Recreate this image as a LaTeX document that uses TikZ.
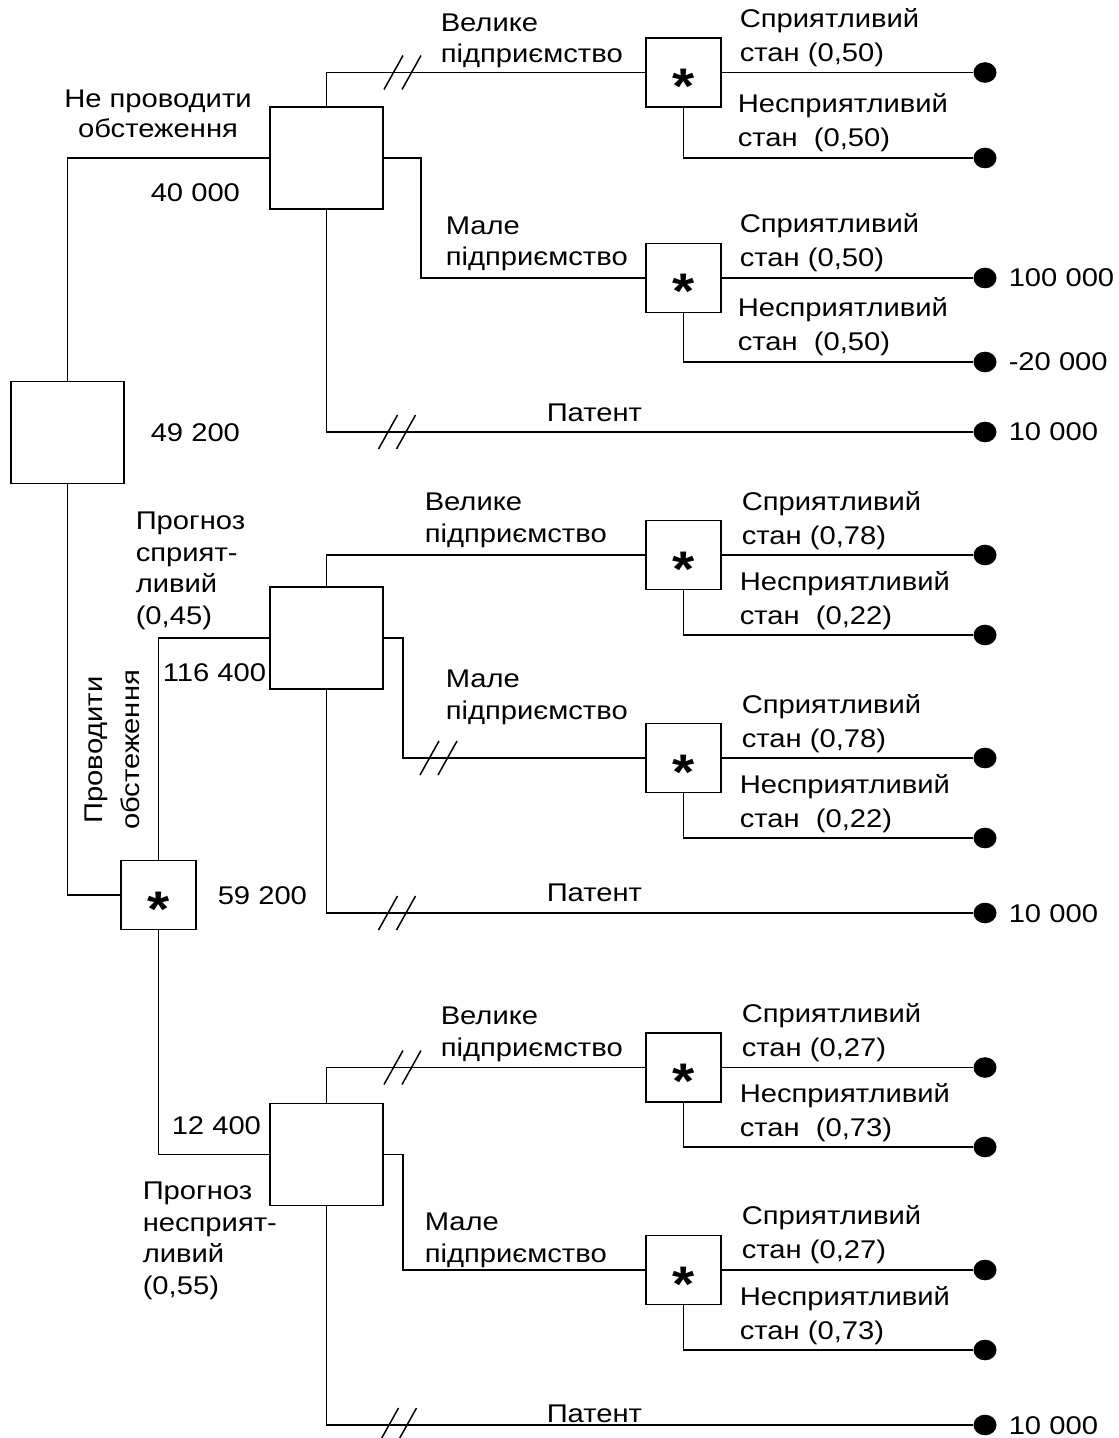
\documentclass[tikz,border=0pt]{standalone}
\usepackage{fontspec}
\usetikzlibrary{shapes.geometric}
\setmainfont{Liberation Sans}[FakeStretch=1.14]
\begin{document}
\begin{tikzpicture}[x=0.5pt,y=-0.5pt, line width=0.75pt,
 dbox/.style={draw, minimum width=56.5pt, minimum height=51pt, inner sep=0},
 cbox/.style={draw, minimum width=37.5pt, minimum height=34.5pt, inner sep=0},
 ast/.style={font=\fontsize{25}{25}\selectfont\bfseries, inner sep=0, anchor=base},
 enddot/.style={ellipse, fill, minimum width=11.5pt, minimum height=10.3pt, inner sep=0},
 lbl/.style={font=\fontsize{12.8}{15.75}\selectfont, inner sep=0, anchor=base west, align=left},
 rlbl/.style={font=\fontsize{12.8}{17}\selectfont, inner sep=0, anchor=base west, align=left},
 clbl/.style={font=\fontsize{12.8}{15}\selectfont, inner sep=0, anchor=base, align=center},
 hashes/.pic={\draw (-18.5,17) -- (0.5,-17); \draw (-0.5,17) -- (18.5,-17);}
]
\useasboundingbox (0,0) rectangle (1118,1438);
% decision boxes
\node[dbox] (L) at (67.5,432.5) {};
\node[dbox] (A) at (326.5,158) {};
\node[dbox] (B) at (326.5,638) {};
\node[dbox] (D) at (326.5,1154.5) {};
% chance boxes
\node[cbox] (C0) at (158.5,895) {};
\node[cbox] (C1) at (683.5,72.5) {};
\node[cbox] (C2) at (683.5,278) {};
\node[cbox] (C3) at (683.5,555) {};
\node[cbox] (C4) at (683.5,758) {};
\node[cbox] (C5) at (683.5,1067.5) {};
\node[cbox] (C6) at (683.5,1270) {};
\node[ast] (s0) at (158.5,926) {*};
\node[ast] (s1) at (683.5,103.5) {*};
\node[ast] (s2) at (683.5,309) {*};
\node[ast] (s3) at (683.5,586) {*};
\node[ast] (s4) at (683.5,789) {*};
\node[ast] (s5) at (683.5,1098.5) {*};
\node[ast] (s6) at (683.5,1301) {*};
% end dots
\node[enddot] (e1) at (985,72.5) {};
\node[enddot] (e2) at (985,158) {};
\node[enddot] (e3) at (985,278) {};
\node[enddot] (e4) at (985,362) {};
\node[enddot] (p1) at (985,432) {};
\node[enddot] (e5) at (985,555) {};
\node[enddot] (e6) at (985,635) {};
\node[enddot] (e7) at (985,758) {};
\node[enddot] (e8) at (985,838) {};
\node[enddot] (p2) at (985,913) {};
\node[enddot] (e9) at (985,1067.5) {};
\node[enddot] (e10) at (985,1147) {};
\node[enddot] (e11) at (985,1270) {};
\node[enddot] (e12) at (985,1350) {};
\node[enddot] (p3) at (985,1425) {};
% connectors
\draw (L.north) |- (A.west);
\draw (A.north) |- (C1.west);
\draw (A.east) -- ++(37,0) |- (C2.west);
\draw (A.south) |- (p1);
\draw (C1.east) -- (e1);
\draw (C1.south) |- (e2);
\draw (C2.east) -- (e3);
\draw (C2.south) |- (e4);
\draw (L.south) |- (C0.west);
\draw (C0.north) |- (B.west);
\draw (B.north) |- (C3.west);
\draw (B.east) -- ++(19,0) |- (C4.west);
\draw (B.south) |- (p2);
\draw (C3.east) -- (e5);
\draw (C3.south) |- (e6);
\draw (C4.east) -- (e7);
\draw (C4.south) |- (e8);
\draw (C0.south) |- (D.west);
\draw (D.north) |- (C5.west);
\draw (D.east) -- ++(19,0) |- (C6.west);
\draw (D.south) |- (p3);
\draw (C5.east) -- (e9);
\draw (C5.south) |- (e10);
\draw (C6.east) -- (e11);
\draw (C6.south) |- (e12);
% hash marks
\pic at (402.5,72.5) {hashes};
\pic at (397,432) {hashes};
\pic at (438.5,758) {hashes};
\pic at (397,913) {hashes};
\pic at (402.5,1067.5) {hashes};
\pic at (398,1425) {hashes};
% labels (anchor = baseline of last line)
\node[clbl] (t1) at (158,138) {Не проводити\\обстеження};
\node[lbl] (t2) at (150,202) {40 000};
\node[lbl] (t3) at (150,442) {49 200};
\node[lbl] (t4) at (440,63) {Велике\\підприємство};
\node[lbl] (t5) at (445,266) {Мале\\підприємство};
\node[lbl] (t6) at (546,422) {Патент};
\node[rlbl] (t7) at (739,62) {Сприятливий\\стан (0,50)};
\node[rlbl] (t8) at (737,147) {Несприятливий\\стан~ (0,50)};
\node[rlbl] (t9) at (739,267) {Сприятливий\\стан (0,50)};
\node[rlbl] (t10) at (737,351) {Несприятливий\\стан~ (0,50)};
\node[lbl] (t11) at (1008,287) {100 000};
\node[lbl] (t12) at (1008,371) {-20 000};
\node[lbl] (t13) at (1008,441) {10 000};
\node[lbl] (t14) at (135,624) {Прогноз\\сприят-\\ливий\\(0,45)};
\node[lbl] (t15) at (162,681) {116 400};
\node[font=\fontsize{12.8}{18.5}\selectfont, inner sep=0, align=center, rotate=90, anchor=center] (t16) at (112,750) {Проводити\\обстеження};
\node[lbl] (t17) at (424,542) {Велике\\підприємство};
\node[lbl] (t18) at (445,719) {Мале\\підприємство};
\node[lbl] (t19) at (217,904) {59 200};
\node[rlbl] (t20) at (741,544) {Сприятливий\\стан (0,78)};
\node[rlbl] (t21) at (739,624) {Несприятливий\\стан~ (0,22)};
\node[rlbl] (t22) at (741,747) {Сприятливий\\стан (0,78)};
\node[rlbl] (t23) at (739,827) {Несприятливий\\стан~ (0,22)};
\node[lbl] (t24) at (546,901) {Патент};
\node[lbl] (t25) at (1008,922) {10 000};
\node[lbl] (t26) at (171,1134) {12 400};
\node[lbl] (t27) at (142,1294) {Прогноз\\несприят-\\ливий\\(0,55)};
\node[lbl] (t28) at (440,1056) {Велике\\підприємство};
\node[lbl] (t29) at (424,1262) {Мале\\підприємство};
\node[rlbl] (t30) at (741,1056) {Сприятливий\\стан (0,27)};
\node[rlbl] (t31) at (739,1136) {Несприятливий\\стан~ (0,73)};
\node[rlbl] (t32) at (741,1258) {Сприятливий\\стан (0,27)};
\node[rlbl] (t33) at (739,1339) {Несприятливий\\стан (0,73)};
\node[lbl] (t34) at (546,1422) {Патент};
\node[lbl] (t35) at (1008,1434) {10 000};
\end{tikzpicture}
\end{document}
